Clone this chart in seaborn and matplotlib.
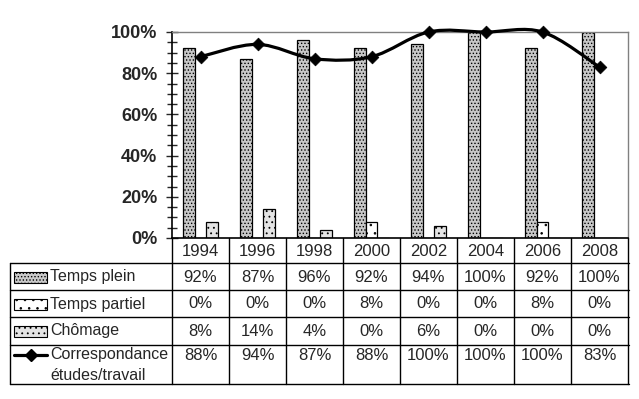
import numpy as np
import pandas as pd
import seaborn as sns
import matplotlib
matplotlib.use('Agg')
import matplotlib.pyplot as plt
from matplotlib import transforms
from matplotlib.path import Path
from matplotlib.patches import PathPatch, Rectangle
from matplotlib.lines import Line2D
from matplotlib.ticker import PercentFormatter, MultipleLocator

# data
years = ['1994', '1996', '1998', '2000', '2002', '2004', '2006', '2008']
temps_plein = [92, 87, 96, 92, 94, 100, 92, 100]
temps_partiel = [0, 0, 0, 8, 0, 0, 8, 0]
chomage = [8, 14, 4, 0, 6, 0, 0, 0]
correspondance = [88, 94, 87, 88, 100, 100, 100, 83]

series_names = ['Temps plein', 'Temps partiel', 'Chômage']
series_vals = [temps_plein, temps_partiel, chomage]
line_name = ['Correspondance', 'études/travail']

face = ['#c8c8c8', 'white', '#e4e4e4']
hatch = ['.....', '..', '...']

sns.set_style('white')
plt.rcParams['font.family'] = ['Liberation Sans', 'DejaVu Sans']
plt.rcParams['hatch.linewidth'] = 0.6
plt.rcParams['hatch.color'] = '#333333'

W, H = 639, 399
fig = plt.figure(figsize=(W / 100, H / 100), dpi=100)
def fx(px): return px / W
def fy(py): return 1 - py / H
ax = fig.add_axes([fx(172), fy(238), fx(628) - fx(172), fy(32) - fy(238)])

rows = []
for name, vals in zip(series_names, series_vals):
    for y, v in zip(years, vals):
        rows.append({'year': y, 'serie': name, 'value': v / 100})
df = pd.DataFrame(rows)

sns.barplot(data=df, x='year', y='value', hue='serie', order=years,
            hue_order=series_names, palette=face, width=0.63, gap=0,
            edgecolor='black', linewidth=0.9, legend=False, ax=ax)
for cont, h in zip(ax.containers, hatch):
    for p in cont:
        p.set_hatch(h)

# smoothed line (Excel style) through the points
xs = np.arange(len(years))
pts = np.column_stack([xs, np.array(correspondance) / 100])
verts = [pts[0]]
codes = [Path.MOVETO]
n = len(pts)
for i in range(n - 1):
    p0 = pts[max(i - 1, 0)]
    p1 = pts[i]
    p2 = pts[i + 1]
    p3 = pts[min(i + 2, n - 1)]
    c1 = p1 + (p2 - p0) / 6
    c2 = p2 - (p3 - p1) / 6
    verts += [c1, c2, p2]
    codes += [Path.CURVE4] * 3
ax.add_patch(PathPatch(Path(verts, codes), fill=False, lw=2.3,
                       edgecolor='black', zorder=5, clip_on=False))
sns.scatterplot(x=xs, y=pts[:, 1], marker='D', s=42, color='black',
                edgecolor='black', zorder=6, clip_on=False, ax=ax)

ax.set_xlim(-0.5, len(years) - 0.5)
ax.set_ylim(0, 1)
ax.yaxis.set_major_locator(MultipleLocator(0.2))
ax.yaxis.set_minor_locator(MultipleLocator(0.05))
ax.yaxis.set_major_formatter(PercentFormatter(1.0, decimals=0))
ax.tick_params(axis='y', which='major', direction='inout', length=9,
               width=1, labelsize=13, pad=6, left=True)
ax.tick_params(axis='y', which='minor', direction='inout', length=7,
               width=1, left=True)
for t in ax.get_yticklabels():
    t.set_fontweight('bold')
ax.set_xticks([])
ax.set_xlabel('')
ax.set_ylabel('')
for s in ['left', 'bottom']:
    ax.spines[s].set_color('black')
    ax.spines[s].set_linewidth(1.2)
for s in ['top', 'right']:
    ax.spines[s].set_color('#808080')
    ax.spines[s].set_linewidth(1)

# data table under the chart
tr = transforms.blended_transform_factory(ax.transData, fig.transFigure)
for b in np.arange(len(years) + 1) - 0.5:
    fig.add_artist(Line2D([b, b], [fy(238), fy(384)], transform=tr,
                          color='black', lw=1))
fig.add_artist(Line2D([fx(10), fx(10)], [fy(263), fy(384)],
                      color='black', lw=1))
for py in [263, 290, 317, 345, 384]:
    fig.add_artist(Line2D([fx(10), fx(629)], [fy(py), fy(py)],
                          color='black', lw=1))

for i, y in enumerate(years):
    fig.text(i, fy(251), y, transform=tr, ha='center', va='center', fontsize=12)

row_y = [277, 304, 331]
for name, vals, fc, h, ry in zip(series_names, series_vals, face, hatch, row_y):
    fig.add_artist(Rectangle((fx(14), fy(ry + 5.5)), fx(47) - fx(14), 11 / H,
                             facecolor=fc, hatch=h, edgecolor='black', lw=0.8))
    fig.text(fx(50), fy(ry), name, ha='left', va='center', fontsize=11.5)
    for i, v in enumerate(vals):
        fig.text(i, fy(ry), f'{v}%', transform=tr, ha='center', va='center',
                 fontsize=12)

fig.add_artist(Line2D([fx(14), fx(47)], [fy(355), fy(355)], color='black',
                      lw=2.3))
fig.add_artist(Line2D([fx(30.5)], [fy(355)], marker='D', markersize=6,
                      color='black', lw=0))
fig.text(fx(50), fy(355), line_name[0], ha='left', va='center', fontsize=11.5)
fig.text(fx(50), fy(375), line_name[1], ha='left', va='center', fontsize=11.5)
for i, v in enumerate(correspondance):
    fig.text(i, fy(355), f'{v}%', transform=tr, ha='center', va='center',
             fontsize=12)

fig.savefig('out.png', dpi=100)
